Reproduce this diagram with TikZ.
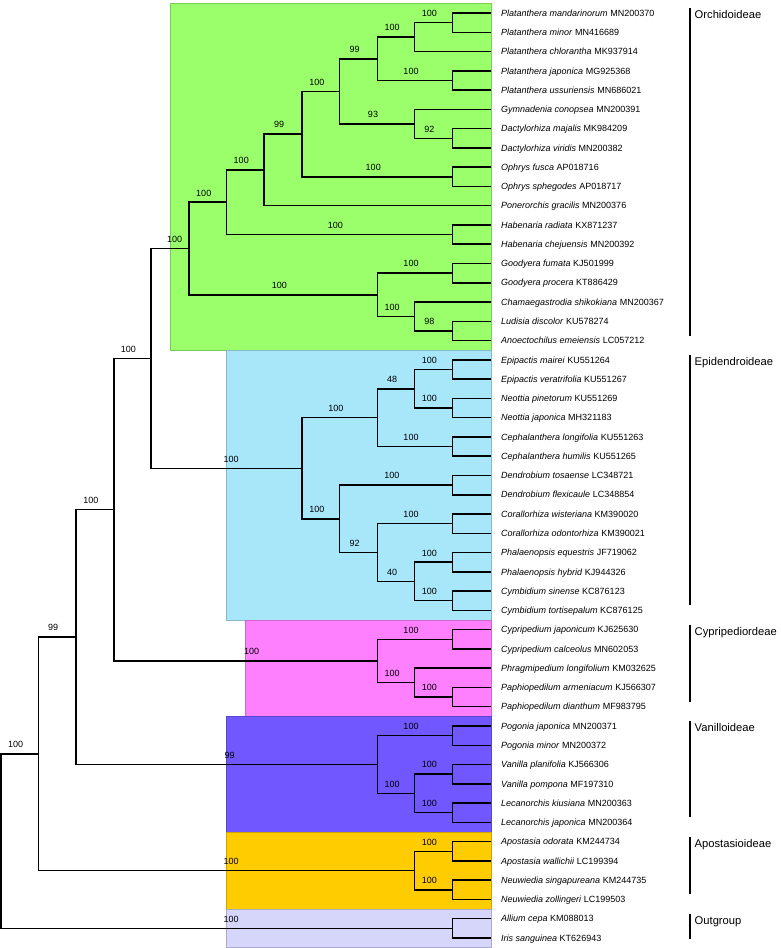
\documentclass[tikz,border=0pt]{standalone}
\usepackage{fontspec}
\setmainfont{Liberation Sans}
\usetikzlibrary{calc}
\definecolor{orchgreen}{RGB}{154,255,106}
\definecolor{epidblue}{RGB}{168,230,250}
\definecolor{cypmagenta}{RGB}{255,128,255}
\definecolor{vanpurple}{RGB}{112,87,255}
\definecolor{apoorange}{RGB}{255,204,0}
\definecolor{outlilac}{RGB}{214,214,250}
% x levels of the tree nodes
\def\lA{452.3}\def\lB{414.5}\def\lC{377.7}\def\lD{339.5}\def\lE{302.2}\def\lF{263.9}
\def\lG{226.6}\def\lH{188.9}\def\lI{151.1}\def\lJ{113.8}\def\lK{76}\def\lL{38.3}\def\lM{1}
\def\clade(#1)(#2:#3:#4){\coordinate (#1m) at ($(#3)!.5!(#4)$); \coordinate (#1) at (#1m -| #2,0); \draw[branch] (#3) -| (#1) |- (#4);}
\def\boot(#1:#2)#3{\node[boot] at ($(#2 -| #1)!.5!(#2)$) {#3};}

\begin{document}
\begin{tikzpicture}[x=1pt,y=-1pt,
  branch/.style={line width=1.5pt, black},
  boot/.style={font=\fontsize{9}{10}\selectfont, anchor=base, inner sep=0pt, xshift=-4pt, yshift=6.2pt},
  tiplab/.style={font=\fontsize{9}{10}\selectfont, anchor=west, inner xsep=10pt, inner ysep=0pt, text height=6.4pt, text depth=0pt},
  cladebox/.style={fill=#1, draw=#1!80!black, line width=0.5pt},
  groupbar/.style={line width=1.4pt},
  grouplab/.style={font=\fontsize{11.2}{13}\selectfont, anchor=base west, inner sep=0pt}]
	%%%%% START %%%%%
	\useasboundingbox (0,0) rectangle (780,948);
	
	\draw[cladebox=orchgreen] (170.5,3.4) rectangle (491,350.2);
	\draw[cladebox=epidblue] (226.3,350.2) rectangle (491,620);
	\draw[cladebox=cypmagenta] (245.3,620) rectangle (491,716.4);
	\draw[cladebox=vanpurple] (226.3,716.4) rectangle (491,832);
	\draw[cladebox=apoorange] (226.3,832) rectangle (491,909.3);
	\draw[cladebox=outlilac] (226.3,909.3) rectangle (491,947.6);
	
	\foreach \sp/\acc [count=\i] in {
		Platanthera mandarinorum/MN200370, Platanthera minor/MN416689,
		Platanthera chlorantha/MK937914, Platanthera japonica/MG925368,
		Platanthera ussuriensis/MN686021, Gymnadenia conopsea/MN200391,
		Dactylorhiza majalis/MK984209, Dactylorhiza viridis/MN200382,
		Ophrys fusca/AP018716, Ophrys sphegodes/AP018717,
		Ponerorchis gracilis/MN200376, Habenaria radiata/KX871237,
		Habenaria chejuensis/MN200392, Goodyera fumata/KJ501999,
		Goodyera procera/KT886429, Chamaegastrodia shikokiana/MN200367,
		Ludisia discolor/KU578274, Anoectochilus emeiensis/LC057212,
		Epipactis mairei/KU551264, Epipactis veratrifolia/KU551267,
		Neottia pinetorum/KU551269, Neottia japonica/MH321183,
		Cephalanthera longifolia/KU551263, Cephalanthera humilis/KU551265,
		Dendrobium tosaense/LC348721, Dendrobium flexicaule/LC348854,
		Corallorhiza wisteriana/KM390020, Corallorhiza odontorhiza/KM390021,
		Phalaenopsis equestris/JF719062, Phalaenopsis hybrid/KJ944326,
		Cymbidium sinense/KC876123, Cymbidium tortisepalum/KC876125,
		Cypripedium japonicum/KJ625630, Cypripedium calceolus/MN602053,
		Phragmipedium longifolium/KM032625, Paphiopedilum armeniacum/KJ566307,
		Paphiopedilum dianthum/MF983795, Pogonia japonica/MN200371,
		Pogonia minor/MN200372, Vanilla planifolia/KJ566306,
		Vanilla pompona/MF197310, Lecanorchis kiusiana/MN200363,
		Lecanorchis japonica/MN200364, Apostasia odorata/KM244734,
		Apostasia wallichii/LC199394, Neuwiedia singapureana/KM244735,
		Neuwiedia zollingeri/LC199503, Allium cepa/KM088013,
		Iris sanguinea/KT626943}{
		\coordinate (t\i) at (491,{13+(\i-1)*19.27});
		\node[tiplab] at (t\i) {\textit{\sp} \acc};
	}
	
	% Orchidoideae
	\clade(a1)(\lA:t1:t2)
	\clade(a2)(\lB:a1:t3)
	\clade(a3)(\lA:t4:t5)
	\clade(a4)(\lC:a2:a3)
	\clade(a5)(\lA:t7:t8)
	\clade(a6)(\lB:t6:a5)
	\clade(a7)(\lD:a4:a6)
	\clade(a8)(\lA:t9:t10)
	\clade(a9)(\lE:a7:a8)
	\clade(a10)(\lF:a9:t11)
	\clade(a11)(\lA:t12:t13)
	\clade(a12)(\lG:a10:a11)
	\clade(a13)(\lA:t14:t15)
	\clade(a14)(\lA:t17:t18)
	\clade(a15)(\lB:t16:a14)
	\clade(a16)(\lC:a13:a15)
	\clade(orch)(\lH:a12:a16)
	% Epidendroideae
	\clade(b1)(\lA:t19:t20)
	\clade(b2)(\lA:t21:t22)
	\clade(b3)(\lB:b1:b2)
	\clade(b4)(\lA:t23:t24)
	\clade(b5)(\lC:b3:b4)
	\clade(b6)(\lA:t25:t26)
	\clade(b7)(\lA:t27:t28)
	\clade(b8)(\lA:t29:t30)
	\clade(b9)(\lA:t31:t32)
	\clade(b10)(\lB:b8:b9)
	\clade(b11)(\lC:b7:b10)
	\clade(b12)(\lD:b6:b11)
	\clade(epid)(\lE:b5:b12)
	\clade(oe)(\lI:orch:epid)
	% Cypripedioideae
	\clade(c1)(\lA:t33:t34)
	\clade(c2)(\lA:t36:t37)
	\clade(c3)(\lB:t35:c2)
	\clade(cyp)(\lC:c1:c3)
	\clade(oec)(\lJ:oe:cyp)
	% Vanilloideae
	\clade(d1)(\lA:t38:t39)
	\clade(d2)(\lA:t40:t41)
	\clade(d3)(\lA:t42:t43)
	\clade(d4)(\lB:d2:d3)
	\clade(van)(\lC:d1:d4)
	\clade(oecv)(\lK:oec:van)
	% Apostasioideae and outgroup
	\clade(e1)(\lA:t44:t45)
	\clade(e2)(\lA:t46:t47)
	\clade(apo)(\lB:e1:e2)
	\clade(crown)(\lL:oecv:apo)
	\clade(out)(\lA:t48:t49)
	\clade(root)(\lM:crown:out)
	
	\boot(a2:a1){100}
	\boot(a4:a2){100}
	\boot(a4:a3){100}
	\boot(a7:a4){99}
	\boot(a6:a5){92}
	\boot(a7:a6){93}
	\boot(a9:a7){100}
	\boot(a9:a8){100}
	\boot(a10:a9){99}
	\boot(a12:a10){100}
	\boot(a12:a11){100}
	\boot(orch:a12){100}
	\boot(a16:a13){100}
	\boot(a15:a14){98}
	\boot(a16:a15){100}
	\boot(orch:a16){100}
	\boot(b3:b1){100}
	\boot(b3:b2){100}
	\boot(b5:b3){48}
	\boot(b5:b4){100}
	\boot(epid:b5){100}
	\boot(b12:b6){100}
	\boot(b11:b7){100}
	\boot(b10:b8){100}
	\boot(b10:b9){100}
	\boot(b11:b10){40}
	\boot(b12:b11){92}
	\boot(epid:b12){100}
	\boot(cyp:c1){100}
	\boot(c3:c2){100}
	\boot(cyp:c3){100}
	\boot(van:d1){100}
	\boot(d4:d2){100}
	\boot(d4:d3){100}
	\boot(van:d4){100}
	\boot(apo:e1){100}
	\boot(apo:e2){100}
	\boot(oec:oe){100}
	\boot(oecv:oec){100}
	\boot(crown:oecv){99}
	\boot(root:crown){100}
	% subfamily supports sit at the box edge
	\node[boot, anchor=base west, xshift=0pt] at (orch -| 171,0) {100};
	\node[boot, anchor=base west, xshift=0pt] at (epid -| 227.5,0) {100};
	\node[boot, anchor=base west, xshift=0pt] at (cyp -| 248,0) {100};
	\node[boot, anchor=base west, xshift=0pt] at (van -| 228.5,0) {99};
	\node[boot, anchor=base west, xshift=0pt] at (apo -| 227.5,0) {100};
	\node[boot, anchor=base west, xshift=0pt] at (out -| 227.5,0) {100};
	
	\coordinate (gb) at (690,0);
	\foreach \first/\last/\dy/\grp in {1/18/-5/Orchidoideae, 19/32/-5/Epidendroideae,
		33/37/-5/Cypripediordeae, 38/43/-5/Vanilloideae, 44/47/-5/Apostasioideae, 48/49/1/Outgroup}{
		\draw[groupbar] (t\first -| gb) ++(0,-5) coordinate (top\first) -- ($(t\last -| gb)+(0,\dy)$);
		\node[grouplab] at ($(top\first)+(4.5,10.4)$) {\grp};
	}
	%%%%% END %%%%%
\end{tikzpicture}
\end{document}
